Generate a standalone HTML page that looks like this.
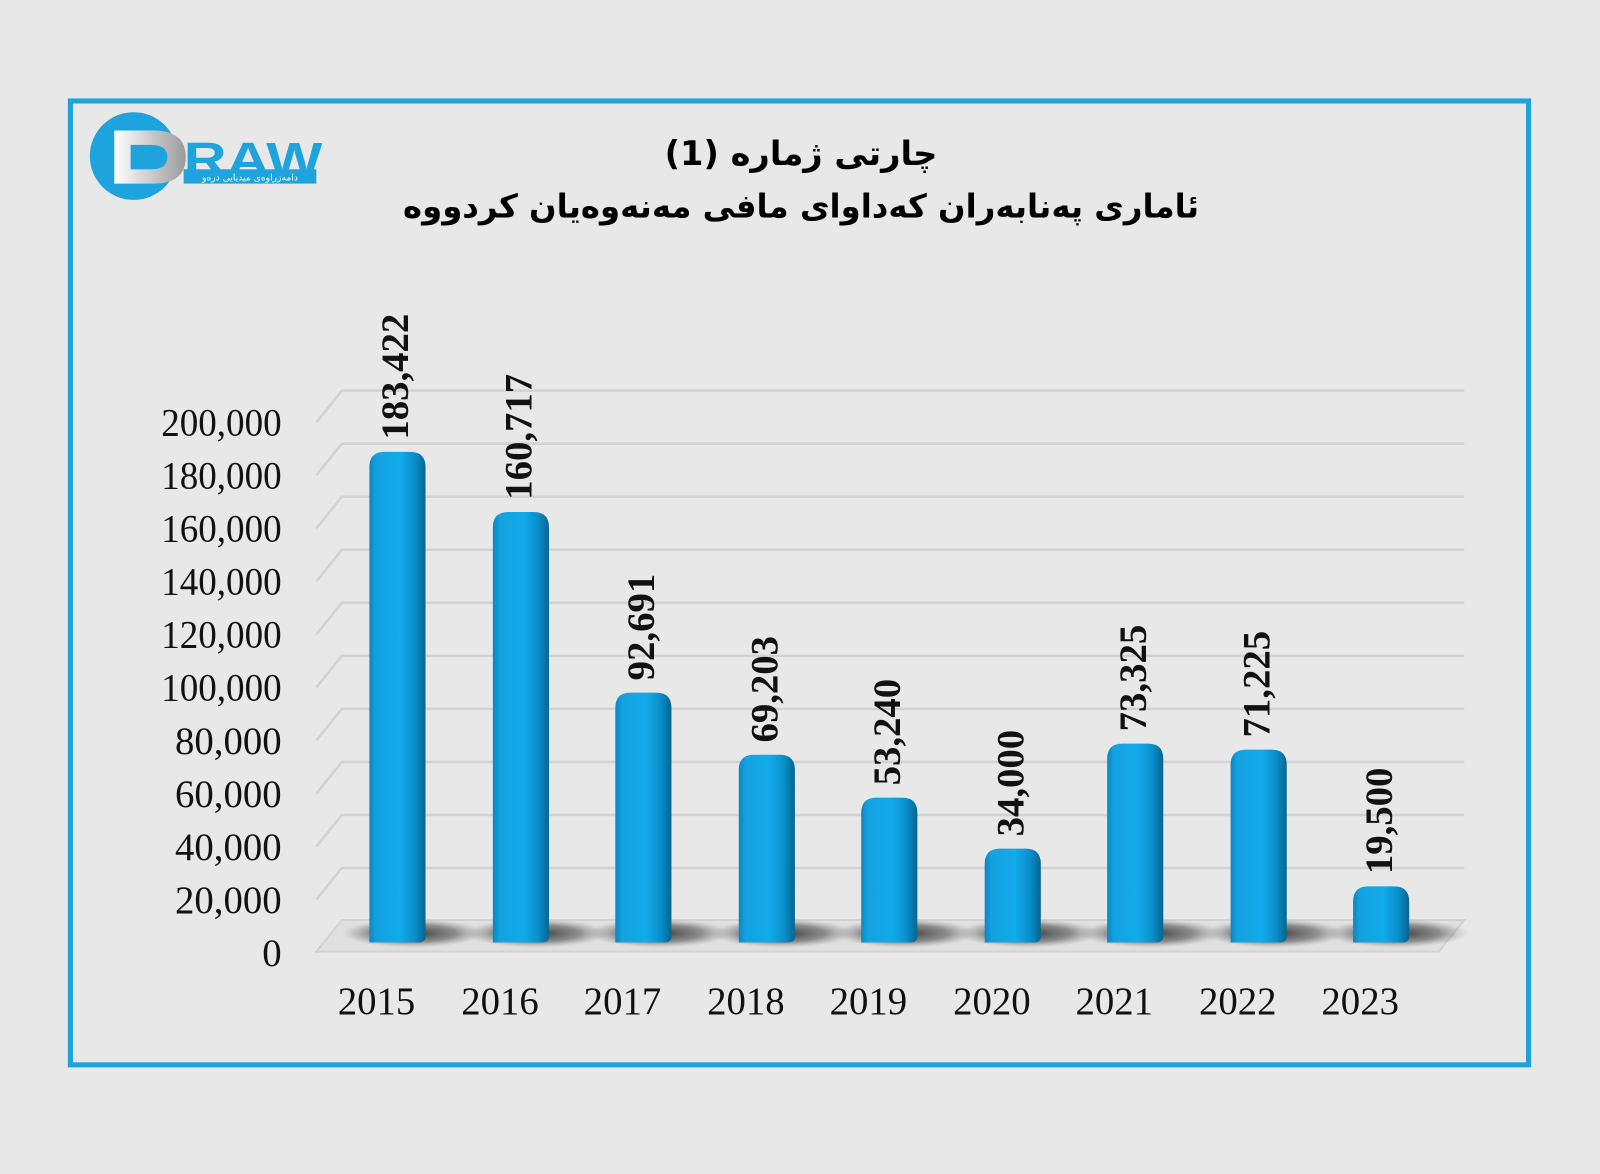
<!DOCTYPE html>
<html><head><meta charset="utf-8"><style>html,body{margin:0;padding:0;background:#e8e8e8}svg{display:block}</style></head>
<body>
<svg width="1600" height="1174" viewBox="0 0 1568 1151" preserveAspectRatio="none" xmlns="http://www.w3.org/2000/svg">
<defs>
<linearGradient id="bar" x1="0" x2="1" y1="0" y2="0">
<stop offset="0" stop-color="#0a86c4"/><stop offset="0.12" stop-color="#14a2e0"/><stop offset="0.55" stop-color="#12aaea"/><stop offset="0.8" stop-color="#0a8fcc"/><stop offset="1" stop-color="#05668f"/>
</linearGradient>
<radialGradient id="sh" cx="0.5" cy="0.5" r="0.5">
<stop offset="0" stop-color="#333" stop-opacity="0.95"/><stop offset="0.6" stop-color="#555" stop-opacity="0.6"/><stop offset="1" stop-color="#888" stop-opacity="0"/>
</radialGradient>
<linearGradient id="dg" x1="0" x2="1"><stop offset="0" stop-color="#fff"/><stop offset="1" stop-color="#9a9a9a"/></linearGradient>
</defs>
<rect width="1568" height="1151" fill="#e8e8e8"/>
<rect x="69" y="99" width="1429" height="945" fill="#e8e8e8" stroke="#1ea3dd" stroke-width="5"/>
<circle cx="131" cy="153" r="43" fill="#1ea3dd"/>
<path d="M112 128 L150 128 Q182 128 182 154 Q182 180 150 180 L112 180 L112 166 L148 166 Q164 166 164 154 Q164 142 148 142 L128 142 L128 166 L112 166 Z" fill="url(#dg)"/>
<text x="180" y="172" font-family="Liberation Sans, sans-serif" font-weight="bold" font-size="46" fill="#1ea3dd" textLength="136" lengthAdjust="spacingAndGlyphs">RAW</text>
<rect x="180" y="166" width="130" height="14" fill="#1ea3dd"/>
<text x="245" y="177" text-anchor="middle" font-family="DejaVu Sans, sans-serif" font-size="9" fill="#fff">دامەزراوەی میدیایی درەو</text>
<text x="785" y="162" text-anchor="middle" font-family="DejaVu Sans, sans-serif" font-weight="bold" font-size="33" fill="#000">چارتی ژمارە (1)</text>
<text x="785" y="213" text-anchor="middle" font-family="DejaVu Sans, sans-serif" font-weight="bold" font-size="32" fill="#000" textLength="780" lengthAdjust="spacingAndGlyphs">ئاماری پەنابەران کەداوای مافی مەنەوەیان کردووە</text>
<g stroke="#d2d2d2" stroke-width="2.5" fill="none">
<path d="M310 414 L335 383 H1435"/><path d="M310 466 L335 435 H1435"/><path d="M310 518 L335 487 H1435"/><path d="M310 570 L335 539 H1435"/><path d="M310 622 L335 591 H1435"/><path d="M310 674 L335 643 H1435"/><path d="M310 726 L335 695 H1435"/><path d="M310 778 L335 747 H1435"/><path d="M310 830 L335 799 H1435"/><path d="M310 882 L335 851 H1435"/>
</g>
<path d="M310 933 L335 902 H1435 L1410 933 Z" fill="#e0e0e0" stroke="#d2d2d2" stroke-width="2"/>
<g font-family="Liberation Serif, serif" font-size="38" fill="#111" text-anchor="end">
<text x="276" y="427" textLength="118" lengthAdjust="spacingAndGlyphs">200,000</text>
<text x="276" y="479" textLength="118" lengthAdjust="spacingAndGlyphs">180,000</text>
<text x="276" y="531" textLength="118" lengthAdjust="spacingAndGlyphs">160,000</text>
<text x="276" y="583" textLength="118" lengthAdjust="spacingAndGlyphs">140,000</text>
<text x="276" y="635" textLength="118" lengthAdjust="spacingAndGlyphs">120,000</text>
<text x="276" y="687" textLength="118" lengthAdjust="spacingAndGlyphs">100,000</text>
<text x="276" y="739">80,000</text>
<text x="276" y="791">60,000</text>
<text x="276" y="843">40,000</text>
<text x="276" y="895">20,000</text>
<text x="276" y="947">0</text>
</g>
<g font-family="Liberation Serif, serif" font-size="38" fill="#111" text-anchor="middle">
<text x="369" y="994">2015</text><text x="490" y="994">2016</text><text x="610" y="994">2017</text><text x="731" y="994">2018</text><text x="851" y="994">2019</text><text x="972" y="994">2020</text><text x="1092" y="994">2021</text><text x="1213" y="994">2022</text><text x="1333" y="994">2023</text>
</g>
<g>
<g fill="url(#sh)">
<ellipse cx="405" cy="915" rx="70" ry="14"/><ellipse cx="526" cy="915" rx="70" ry="14"/><ellipse cx="646" cy="915" rx="70" ry="14"/><ellipse cx="767" cy="915" rx="70" ry="14"/><ellipse cx="887" cy="915" rx="70" ry="14"/><ellipse cx="1008" cy="915" rx="70" ry="14"/><ellipse cx="1128" cy="915" rx="70" ry="14"/><ellipse cx="1249" cy="915" rx="70" ry="14"/><ellipse cx="1369" cy="915" rx="70" ry="14"/>
</g>
<g fill="url(#bar)">
<path d="M362 924 V458 Q362 443 377 443 H402 Q417 443 417 458 V918 Q417 924 410 924 Z"/>
<path d="M483 924 V517 Q483 502 498 502 H523 Q538 502 538 517 V918 Q538 924 531 924 Z"/>
<path d="M603 924 V694 Q603 679 618 679 H643 Q658 679 658 694 V918 Q658 924 651 924 Z"/>
<path d="M724 924 V755 Q724 740 739 740 H764 Q779 740 779 755 V918 Q779 924 772 924 Z"/>
<path d="M844 924 V797 Q844 782 859 782 H884 Q899 782 899 797 V918 Q899 924 892 924 Z"/>
<path d="M965 924 V847 Q965 832 980 832 H1005 Q1020 832 1020 847 V918 Q1020 924 1013 924 Z"/>
<path d="M1085 924 V744 Q1085 729 1100 729 H1125 Q1140 729 1140 744 V918 Q1140 924 1133 924 Z"/>
<path d="M1206 924 V750 Q1206 735 1221 735 H1246 Q1261 735 1261 750 V918 Q1261 924 1254 924 Z"/>
<path d="M1326 924 V884 Q1326 869 1341 869 H1366 Q1381 869 1381 884 V918 Q1381 924 1374 924 Z"/>
</g>
</g>
<g font-family="Liberation Serif, serif" font-weight="bold" font-size="38" fill="#111">
<text transform="translate(400,431) rotate(-90)">183,422</text>
<text transform="translate(521,490) rotate(-90)">160,717</text>
<text transform="translate(641,667) rotate(-90)">92,691</text>
<text transform="translate(762,728) rotate(-90)">69,203</text>
<text transform="translate(882,770) rotate(-90)">53,240</text>
<text transform="translate(1003,820) rotate(-90)">34,000</text>
<text transform="translate(1123,717) rotate(-90)">73,325</text>
<text transform="translate(1244,723) rotate(-90)">71,225</text>
<text transform="translate(1364,857) rotate(-90)">19,500</text>
</g>
</svg>
</body></html>
